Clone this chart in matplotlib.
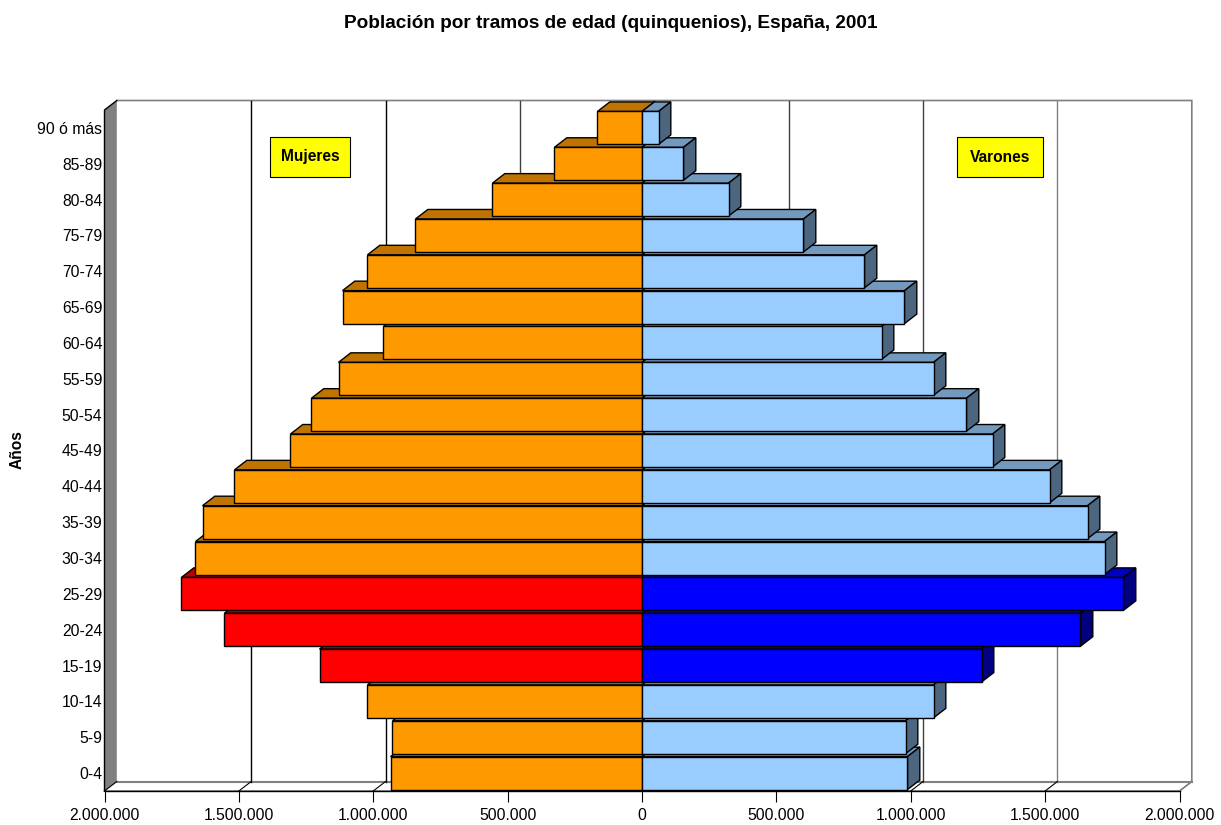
import matplotlib
matplotlib.use("Agg")
import matplotlib.pyplot as plt
from matplotlib.patches import Polygon, Rectangle
from matplotlib.transforms import Affine2D

plt.rcParams['font.family'] = ['Liberation Sans', 'DejaVu Sans']

# age groups, from the bottom of the pyramid up
ages = ['0-4', '5-9', '10-14', '15-19', '20-24', '25-29', '30-34', '35-39', '40-44', '45-49',
        '50-54', '55-59', '60-64', '65-69', '70-74', '75-79', '80-84', '85-89', '90 ó más']
mujeres = [935800, 928400, 1021400, 1200000, 1553500, 1713500, 1661400, 1635300, 1516300, 1308000,
           1229800, 1129300, 961900, 1114400, 1021400, 842800, 556300, 325600, 165600]
varones = [987900, 980500, 1084700, 1263300, 1631600, 1791600, 1721000, 1657700, 1516300, 1304200,
           1207400, 1084700, 891200, 976700, 827900, 600900, 321900, 154400, 61400]
highlight = ['15-19', '20-24', '25-29']

x_ticks = [-2000000, -1500000, -1000000, -500000, 0, 500000, 1000000, 1500000, 2000000]
x_labels = ['2.000.000', '1.500.000', '1.000.000', '500.000', '0', '500.000', '1.000.000', '1.500.000', '2.000.000']

# (front, top, side) shades of the fake 3d bars
ORANGE = ('#FF9900', '#BF7300')
RED = ('#FF0000', '#BF0000')
LIGHT = ('#99CCFF', '#7399BF', '#4D6680')
BLUE = ('#0000FF', '#0000BF', '#000080')
GRID = {-1500000: 'black', -1000000: 'black', -500000: '#404040', 0: 'black',
        500000: '#404040', 1000000: '#404040', 1500000: '#808080'}

W, H = 1221, 825
DX = 45800   # depth of the chart in data units
DY = 0.265
BAR_H = 0.92
EDGE = 1.0

fig = plt.figure(figsize=(W / 100, H / 100), dpi=100, facecolor='white')
ax = fig.add_axes([104.5 / W, 1 - 791 / H, 1075 / W, 681 / H])
ax.set_xlim(-2000000, 2000000)
ax.set_ylim(0, 19)
for s in ax.spines.values():
    s.set_visible(False)

# pixel coordinates for the annotation boxes
px = Affine2D().scale(1 / W, -1 / H).translate(0, 1) + fig.transFigure

# walls
ax.add_patch(Polygon([(-2000000, 0), (-2000000 + DX, DY), (-2000000 + DX, 19 + DY), (-2000000, 19)],
                     closed=True, facecolor='#808080', edgecolor='none', clip_on=False, zorder=1))
ax.plot([-2000000, -2000000, -2000000 + DX], [0, 19, 19 + DY], color='black', lw=EDGE,
        clip_on=False, zorder=1.5)
ax.plot([-2000000 + DX, 2000000 + DX, 2000000 + DX, 2000000, -2000000],
        [19 + DY, 19 + DY, DY, 0, 0], color='#808080', lw=1.2, clip_on=False, zorder=1, solid_joinstyle='miter')
ax.plot([-2000000 + DX, 2000000 + DX], [DY, DY], color='#808080', lw=1.5, clip_on=False, zorder=1)
ax.plot([-2000000, 2000000], [0, 0], color='black', lw=EDGE, clip_on=False, zorder=1.5)

for t, c in GRID.items():
    ax.plot([t + DX, t + DX], [DY, 19 + DY], color=c, lw=1.0, clip_on=False, zorder=1.2)
for t in x_ticks:
    ax.plot([t, t + DX], [0, DY], color='#808080' if t == 2000000 else 'black', lw=0.8, clip_on=False, zorder=1.4)

# bars go bottom to top, upper ones hide the top face of the lower ones
for i, age in enumerate(ages):
    y0 = i + 0.5 - BAR_H / 2
    y1 = i + 0.5 + BAR_H / 2
    z = 2 + i
    f = RED if age in highlight else ORANGE
    m = BLUE if age in highlight else LIGHT
    fv = mujeres[i]
    mv = varones[i]
    ax.add_patch(Polygon([(-fv, y1), (0, y1), (DX, y1 + DY), (-fv + DX, y1 + DY)], closed=True,
                         facecolor=f[1], edgecolor='black', lw=EDGE, clip_on=False, zorder=z))
    ax.add_patch(Polygon([(0, y1), (mv, y1), (mv + DX, y1 + DY), (DX, y1 + DY)], closed=True,
                         facecolor=m[1], edgecolor='black', lw=EDGE, clip_on=False, zorder=z))
    ax.add_patch(Polygon([(mv, y0), (mv + DX, y0 + DY), (mv + DX, y1 + DY), (mv, y1)], closed=True,
                         facecolor=m[2], edgecolor='black', lw=EDGE, clip_on=False, zorder=z))
    ax.barh(i + 0.5, -fv, height=BAR_H, color=f[0], edgecolor='black', lw=EDGE, zorder=z + 0.1, clip_on=False)
    ax.barh(i + 0.5, mv, height=BAR_H, color=m[0], edgecolor='black', lw=EDGE, zorder=z + 0.1, clip_on=False)

ax.set_xticks(x_ticks)
ax.set_xticklabels(x_labels, fontsize=11.3)
ax.set_yticks([i + 0.5 for i in range(len(ages))])
ax.set_yticklabels(ages, fontsize=11.3)
ax.tick_params(axis='x', length=8, width=0.8, pad=4.5)
ax.tick_params(axis='y', length=0, pad=1.5)

fig.text(610.5, 23, 'Población por tramos de edad (quinquenios), España, 2001', transform=px,
         ha='center', va='center', fontsize=13.7, fontweight='bold')
fig.text(17, 450, 'Años', transform=px, rotation=90, ha='center', va='center', fontsize=11.2, fontweight='bold')

for label, x0, x1 in [('Mujeres', 270, 350), ('Varones', 957, 1043)]:
    fig.add_artist(Rectangle((x0, 137), x1 - x0, 40, transform=px, facecolor='#FFFF00',
                             edgecolor='black', lw=0.8))
    fig.text((x0 + x1) / 2, 157, label, transform=px, ha='center', va='center',
             fontsize=11.2, fontweight='bold')

fig.savefig('out.png', dpi=100)
